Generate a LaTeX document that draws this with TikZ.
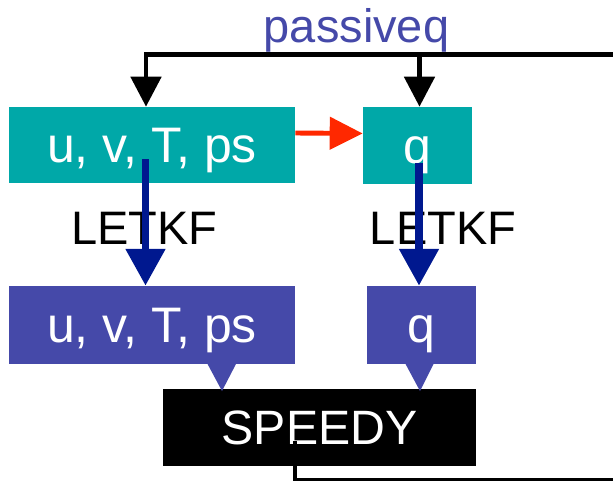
\documentclass[tikz,border=0pt]{standalone}
\usepackage{fontspec}
\setmainfont{Liberation Sans}
\usetikzlibrary{arrows.meta,positioning,calc}
\definecolor{tealbox}{RGB}{0,168,168}
\definecolor{purplebox}{RGB}{69,73,169}
\definecolor{letkfblue}{RGB}{0,24,143}
\definecolor{redarrow}{RGB}{255,40,0}

\begin{document}
\begin{tikzpicture}[x=0.025cm,y=-0.025cm,
  bigfont/.style={font=\fontsize{33.4}{40}\selectfont},
  varbox/.style={font=\fontsize{35.5}{42}\selectfont,inner sep=0pt,text=white,text height=25.4pt,text depth=0pt},
  feed/.style={line width=3.5pt,-{Triangle[length=0.75cm,width=0.75cm]}},
  letkf/.style={letkfblue,line width=5.6pt,-{Triangle[length=0.92cm,width=0.95cm]}}]
\useasboundingbox (0,0) rectangle (613,482);
\node (passiveq) at (356.5,42) [anchor=base,bigfont,text=purplebox] {passiveq};
\node (uvtA) at (152,145) [varbox,fill=tealbox,minimum width=7.15cm,minimum height=1.9cm] {u, v, T, ps};
\node (qA) at (417.5,145.5) [varbox,fill=tealbox,minimum width=2.725cm,minimum height=1.925cm] {q};
\node (uvtB) at (152,325) [varbox,fill=purplebox,minimum width=7.15cm,minimum height=1.95cm] {u, v, T, ps};
\node (qB) at (421.5,325) [varbox,fill=purplebox,minimum width=2.725cm,minimum height=1.95cm] {q};
\node (speedy) at (319.5,427.5) [varbox,font=\fontsize{34.3}{41}\selectfont,text height=24.6pt,fill=black,minimum width=7.825cm,minimum height=1.925cm] {SPEEDY};
\node (letkfA) at (144.5,228.5) [bigfont] {LETKF};
\node (letkfB) at (443,228.5) [bigfont] {LETKF};
% feedback from the right
\coordinate (topright) at (613,54.5);
\coordinate (topleft) at (146,54.5);
\coordinate (topmid) at (419.5,54.5);
\draw[feed] (topright) -- (topleft) -- (topleft |- uvtA.north);
\draw[feed] (topmid) -- (topmid |- qA.north);
\draw[redarrow,line width=3.5pt,-{Triangle[length=0.825cm,width=0.8cm]}] ([yshift=0.3cm]uvtA.east) -- ([yshift=0.3cm]qA.west);
% analysis
\coordinate (fromA) at (145.5,159);
\coordinate (fromB) at (419,163);
\draw[letkf] (fromA) -- (fromA |- uvtB.north);
\draw[letkf] (fromB) -- (fromB |- qB.north);
\fill[purplebox] (207,363) -- (236.5,363) -- (222,391) -- cycle;
\fill[purplebox] (405,363) -- (434,363) -- (420,391) -- cycle;
% back to the top
\coordinate (loopstart) at (295,441);
\coordinate (loopend) at (613,479.5);
\draw[line width=2.6pt] (loopstart) -- (loopstart |- loopend) -- (loopend);
\end{tikzpicture}
\end{document}
